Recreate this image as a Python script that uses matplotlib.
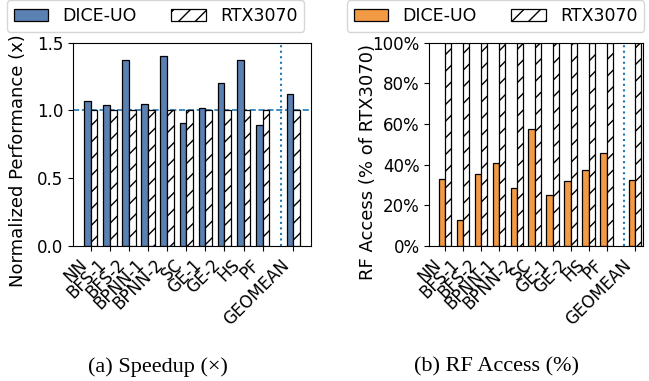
import matplotlib
matplotlib.use('Agg')
import matplotlib.pyplot as plt
from matplotlib.ticker import PercentFormatter

plt.rcParams['font.family'] = 'DejaVu Sans'
plt.rcParams['font.size'] = 12

benchmarks = ['NN', 'BFS-1', 'BFS-2', 'BPNN-1', 'BPNN-2', 'SC', 'GE-1', 'GE-2', 'HS', 'PF', 'GEOMEAN']
speedup_dice = [1.07, 1.04, 1.37, 1.05, 1.40, 0.91, 1.02, 1.20, 1.37, 0.89, 1.12]
speedup_rtx = [1.0] * 11
rf_dice = [32.9, 12.8, 35.2, 40.7, 28.7, 57.7, 25.1, 32.0, 37.2, 45.6, 32.5]
rf_rtx = [100.0] * 11

blue = '#5b80b2'
orange = '#f39a45'
line_blue = '#1f77b4'

# GEOMEAN sits a bit apart, after the dotted separator
xpos = list(range(10)) + [10.6]
sep = 9.95
w = 0.35

fig = plt.figure(figsize=(6.49, 3.81), dpi=100)
ax1 = fig.add_axes([0.1129, 0.3543, 0.3658, 0.5336])
ax2 = fig.add_axes([0.6615, 0.3543, 0.3297, 0.5336])

# (a) speedup
ax1.bar([x - w / 2 for x in xpos], speedup_dice, w, color=blue, edgecolor='black', linewidth=0.9, label='DICE-UO', zorder=2)
ax1.bar([x + w / 2 for x in xpos], speedup_rtx, w, color='white', edgecolor='black', hatch='//', linewidth=0.9, label='RTX3070', zorder=2)
ax1.axhline(1.0, color=line_blue, linestyle='--', linewidth=1.2, zorder=1)
ax1.axvline(sep, color=line_blue, linestyle=':', linewidth=1.5, zorder=1)
ax1.set_ylim(0, 1.5)
ax1.set_yticks([0.0, 0.5, 1.0, 1.5])
ax1.set_xticks(xpos)
ax1.set_xticklabels(benchmarks, rotation=45, ha='right')
ax1.set_ylabel('Normalized Performance (x)', fontsize=13)
ax1.yaxis.set_label_coords(-0.195, 0.42)
ax1.legend(ncol=2, loc='lower left', bbox_to_anchor=(-0.2805, 1.053), borderaxespad=0, fontsize=12.5)

# (b) RF access
ax2.bar([x - w / 2 for x in xpos], rf_dice, w, color=orange, edgecolor='black', linewidth=0.9, label='DICE-UO', zorder=2)
ax2.bar([x + w / 2 for x in xpos], rf_rtx, w, color='white', edgecolor='black', hatch='//', linewidth=0.9, label='RTX3070', zorder=2)
ax2.axvline(sep, color=line_blue, linestyle=':', linewidth=1.5, zorder=1)
ax2.set_ylim(0, 100)
ax2.set_xlim(-0.88, 11.05)
ax2.set_yticks([0, 20, 40, 60, 80, 100])
ax2.yaxis.set_major_formatter(PercentFormatter(decimals=0))
ax2.set_xticks(xpos)
ax2.set_xticklabels(benchmarks, rotation=45, ha='right')
ax2.set_ylabel('RF Access (% of RTX3070)', fontsize=13)
ax2.yaxis.set_label_coords(-0.244, 0.415)
ax2.legend(ncol=2, loc='lower left', bbox_to_anchor=(-0.386, 1.053), borderaxespad=0, fontsize=12.5)

fig.text(158 / 649, 1 - 367 / 381, '(a) Speedup (\u00d7)', ha='center', va='center',
         family='Liberation Serif', fontsize=16)
fig.text(497 / 649, 1 - 367 / 381, '(b) RF Access (%)', ha='center', va='center',
         family='Liberation Serif', fontsize=16)

fig.savefig('out.png', dpi=100)
